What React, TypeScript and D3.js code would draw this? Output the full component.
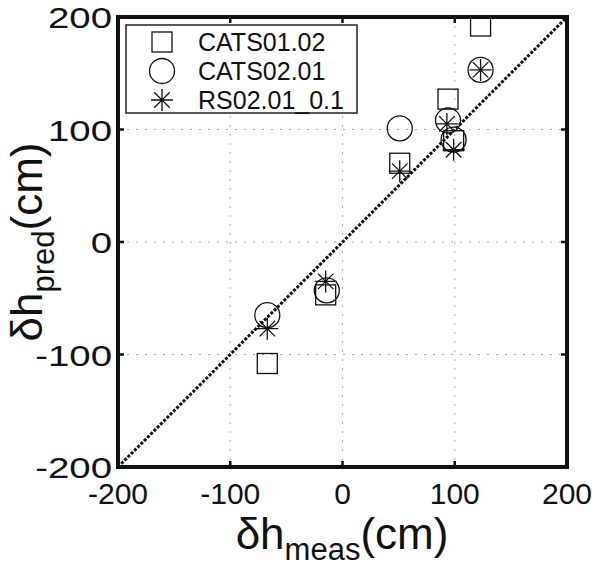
import React from 'react'
import * as d3 from 'd3'

// values (cm)
const squareMeas = [-67, -15, 51, 94, 99, 123]
const squarePred = [-108, -47, 70, 127, 90, 192]
const circleMeas = [-67, -14, 51, 94, 99, 123]
const circlePred = [-65, -43, 101, 108, 91, 153]
const starMeas = [-67, -15, 51, 93, 99, 123]
const starPred = [-77, -35, 63, 105, 82, 153]

const seriesNames = ['CATS01.02', 'CATS02.01', 'RS02.01_0.1']
const tickValues = [-200, -100, 0, 100, 200]

const width = 592
const height = 568
const font = '"Liberation Sans", Arial, Helvetica, sans-serif'

const x = d3.scaleLinear().domain([-200, 200]).range([118, 567])
const y = d3.scaleLinear().domain([-200, 200]).range([467, 17])

const Square = ({ cx, cy, s = 20 }) => (
  <rect x={cx - s / 2} y={cy - s / 2} width={s} height={s} fill="none" stroke="#111" strokeWidth={1.3} />
)
const Circle = ({ cx, cy, r = 12.5 }) => <circle cx={cx} cy={cy} r={r} fill="none" stroke="#111" strokeWidth={1.3} />
const Star = ({ cx, cy, r = 11 }) => {
  const d = r * Math.SQRT1_2
  const p = d3.path()
  p.moveTo(cx - r, cy)
  p.lineTo(cx + r, cy)
  p.moveTo(cx, cy - r)
  p.lineTo(cx, cy + r)
  p.moveTo(cx - d, cy - d)
  p.lineTo(cx + d, cy + d)
  p.moveTo(cx - d, cy + d)
  p.lineTo(cx + d, cy - d)
  return <path d={p.toString()} fill="none" stroke="#111" strokeWidth={1.3} />
}

const App = () => {
  const inner = [-100, 0, 100]
  const [x0, x1] = x.range()
  const [y0, y1] = y.range()
  const diag = d3
    .line<number>()
    .x(v => x(v))
    .y(v => y(v))([-200, 200])

  return (
    <svg
      width={width}
      height={height}
      style={{ position: 'absolute', left: 0, top: 0, background: '#fff' }}
      fontFamily={font}
    >
      <rect width={width} height={height} fill="#fff" />

      {/* dotted grid */}
      <g stroke="#aaa" strokeWidth={1} strokeDasharray="2 7">
        {inner.map(v => (
          <line key={'gx' + v} x1={x(v)} x2={x(v)} y1={y1} y2={y0} />
        ))}
        {inner.map(v => (
          <line key={'gy' + v} x1={x0} x2={x1} y1={y(v)} y2={y(v)} />
        ))}
      </g>

      {/* 1:1 line */}
      <path d={diag} stroke="#111" strokeWidth={3} strokeDasharray="3 1.6" fill="none" />

      {/* markers */}
      {squareMeas.map((v, i) => (
        <Square key={'s' + i} cx={x(v)} cy={y(squarePred[i])} />
      ))}
      {circleMeas.map((v, i) => (
        <Circle key={'c' + i} cx={x(v)} cy={y(circlePred[i])} />
      ))}
      {starMeas.map((v, i) => (
        <Star key={'t' + i} cx={x(v)} cy={y(starPred[i])} />
      ))}

      {/* inward ticks */}
      <g stroke="#111" strokeWidth={2.5}>
        {inner.map(v => (
          <g key={'t' + v}>
            <line x1={x(v)} x2={x(v)} y1={y0} y2={y0 - 6} />
            <line x1={x(v)} x2={x(v)} y1={y1} y2={y1 + 6} />
            <line x1={x0} x2={x0 + 6} y1={y(v)} y2={y(v)} />
            <line x1={x1} x2={x1 - 6} y1={y(v)} y2={y(v)} />
          </g>
        ))}
      </g>

      {/* frame */}
      <rect x={x0} y={y1} width={x1 - x0} height={y0 - y1} fill="none" stroke="#111" strokeWidth={4} />

      {/* tick labels */}
      <g fontSize={30} fill="#111">
        {tickValues.map(v => (
          <text key={'xl' + v} x={x(v)} y={504} textAnchor="middle">
            {v}
          </text>
        ))}
        {tickValues.map(v => (
          <text
            key={'yl' + v}
            transform={`translate(112,${y(v) + 11}) scale(1.28,1)`}
            textAnchor="end"
          >
            {v}
          </text>
        ))}
      </g>

      {/* axis titles */}
      <text x={342} y={549} textAnchor="middle" fontSize={44} fill="#111">
        <tspan>δh</tspan>
        <tspan fontSize={31} dy={11}>meas</tspan>
        <tspan dy={-11}>(cm)</tspan>
      </text>
      <text transform="translate(42,242) rotate(-90)" textAnchor="middle" fontSize={44} fill="#111">
        <tspan>δh</tspan>
        <tspan fontSize={31} dy={12}>pred</tspan>
        <tspan dy={-12}>(cm)</tspan>
      </text>

      {/* legend */}
      <g>
        <rect x={126} y={25} width={231} height={88} fill="#fff" stroke="#222" strokeWidth={1.5} />
        <Square cx={162} cy={42} />
        <Circle cx={162} cy={71} />
        <Star cx={162} cy={100} />
        {seriesNames.map((n, i) => (
          <text key={n} x={198} y={51 + i * 29} fontSize={25} fill="#111">
            {n}
          </text>
        ))}
      </g>
    </svg>
  )
}

export default App
